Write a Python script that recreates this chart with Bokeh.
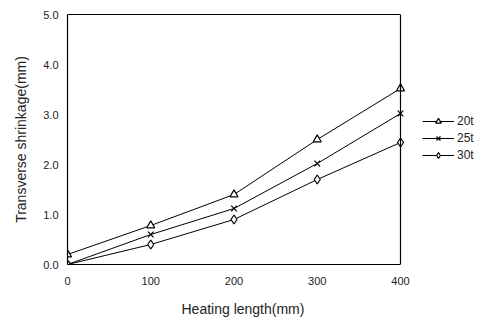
from bokeh.plotting import figure
from bokeh.models import Legend, LegendItem, Range1d, FixedTicker, LinearAxis, Span, Title
from bokeh.embed import file_html
from bokeh.resources import INLINE

heating_length = [0, 100, 200, 300, 400]
s20t = [0.2, 0.78, 1.4, 2.5, 3.52]
s25t = [0.0, 0.6, 1.12, 2.02, 3.02]
s30t = [0.0, 0.4, 0.9, 1.7, 2.44]
series_names = ["20t", "25t", "30t"]
x_ticks = [0, 100, 200, 300, 400]
y_ticks = [0, 1, 2, 3, 4, 5]

FONT = "Liberation Sans"
X_MAX = 400
X_VIEW = X_MAX * 420 / 333.0

p = figure(frame_width=420, frame_height=250, output_backend="svg", toolbar_location=None,
           x_range=Range1d(0, X_VIEW), y_range=Range1d(0, 5),
           min_border_left=67, min_border_right=0, min_border_top=14, min_border_bottom=58)
p.grid.visible = False
p.outline_line_color = None
p.background_fill_color = "white"
p.border_fill_color = "white"

for ax in (p.xaxis, p.yaxis):
    ax.axis_line_color = "black"
    ax.axis_line_width = 1.2
    ax.major_tick_line_color = None
    ax.minor_tick_line_color = None
    ax.major_tick_out = 0
    ax.major_tick_in = 0
    ax.major_label_text_font = FONT
    ax.major_label_text_font_size = "11px"
    ax.major_label_text_color = "#222222"
    ax.axis_label_text_font = FONT
    ax.axis_label_text_font_size = "14px"
    ax.axis_label_text_font_style = "normal"
    ax.axis_label_text_color = "#222222"

p.xaxis.bounds = (0, X_MAX)
p.xaxis.ticker = FixedTicker(ticks=x_ticks)
p.yaxis.ticker = FixedTicker(ticks=y_ticks)
p.yaxis.major_label_overrides = {t: f"{t:.1f}" for t in y_ticks}
p.xaxis.major_label_standoff = 12
p.yaxis.major_label_standoff = 9
p.yaxis.axis_label = "Transverse shrinkage(mm)"
p.yaxis.axis_label_standoff = 11

xtitle = Title(text="Heating length(mm)", align="left", offset=114, standoff=23,
               text_font=FONT, text_font_size="14px", text_font_style="normal",
               text_color="#222222")
p.add_layout(xtitle, "below")

top = LinearAxis(bounds=(0, X_MAX), ticker=FixedTicker(ticks=[]), axis_line_color="black",
                 axis_line_width=1.2, major_tick_line_color=None, minor_tick_line_color=None,
                 major_tick_out=0, major_tick_in=0, major_label_text_alpha=0)
p.add_layout(top, "above")
p.add_layout(Span(location=X_MAX, dimension="height", line_color="black", line_width=1.2))

items = []
specs = [(s20t, "triangle", 8), (s25t, "x", 8), (s30t, "diamond", 9)]
for name, (ys, mk, sz) in zip(series_names, specs):
    ln = p.line(heating_length, ys, line_color="black", line_width=1)
    sc = p.scatter(heating_length, ys, marker=mk, size=sz, line_color="black",
                   fill_color="white", line_width=1.2)
    items.append(LegendItem(label=name, renderers=[ln, sc]))

legend = Legend(items=items, location=(355, 102), border_line_color=None,
                background_fill_alpha=0, label_text_font=FONT, label_text_font_size="12px",
                label_text_color="#222222", glyph_width=32, glyph_height=14,
                label_standoff=3, spacing=3, padding=2, margin=0, label_height=14)
p.add_layout(legend, "center")

open("out.html", "w").write(file_html(p, INLINE))
